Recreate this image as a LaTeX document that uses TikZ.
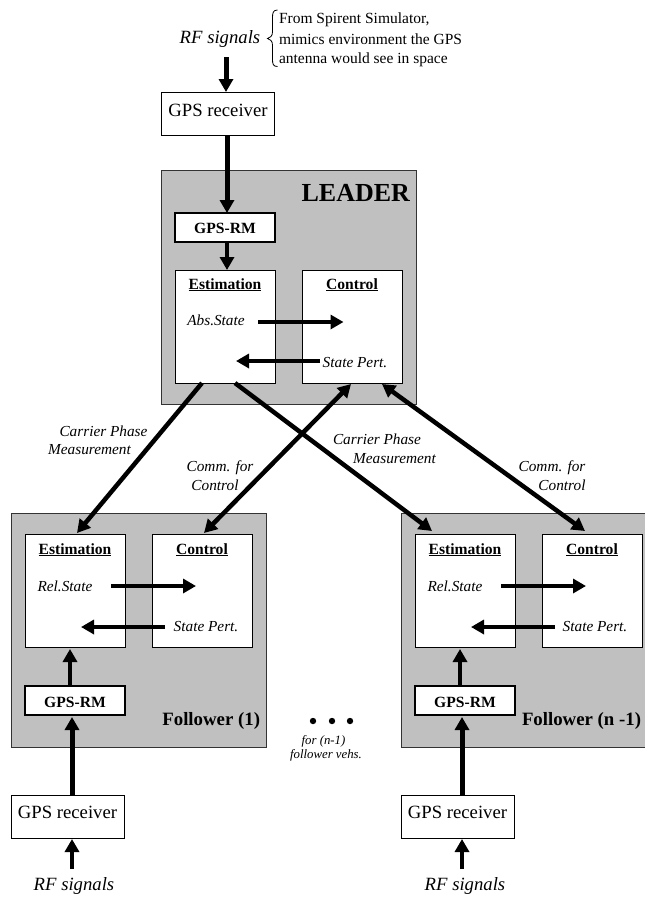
\documentclass[tikz,border=0pt]{standalone}
\usepackage{fontspec}
\setmainfont{Liberation Serif}
\usetikzlibrary{arrows.meta}
\newcommand\ttl[1]{\setbox0\hbox{#1}\rlap{\rule[-2.4pt]{\wd0}{1.1pt}}\box0}
\tikzset{
  panel/.style={draw=black!80,line width=1pt,fill=panelgray,inner sep=0pt,outer sep=0pt,minimum width=255pt,minimum height=234pt},
  whitebox/.style={draw=black,line width=1pt,fill=white,inner sep=0pt,outer sep=0pt,minimum width=100pt,minimum height=113pt},
  rmbox/.style={draw=black,line width=1.1pt,fill=white,inner sep=0pt,outer sep=0pt,minimum width=100pt,minimum height=29pt},
  rxbox/.style={draw=black,line width=1pt,fill=white,inner sep=0pt,outer sep=0pt,minimum width=113pt,minimum height=43pt},
  txt/.style={inner sep=0pt,outer sep=0pt,anchor=base,font=\fontsize{15.5}{15.5}\selectfont},
  ital/.style={txt,font=\fontsize{15.3}{15.3}\selectfont\itshape},
  rflab/.style={txt,font=\fontsize{18.7}{18.7}\selectfont\itshape},
  rxlab/.style={txt,font=\fontsize{18.7}{18.7}\selectfont},
  boldlab/.style={txt,font=\fontsize{15.6}{15.6}\selectfont\bfseries},
  panellab/.style={txt,font=\fontsize{18.8}{18.8}\selectfont\bfseries},
  small/.style={txt,font=\fontsize{12.8}{12.8}\selectfont\itshape},
  dotmark/.style={circle,fill=black,inner sep=0pt,outer sep=0pt,minimum size=6.4pt},
  flow/.style={line width=4.5pt,-{Triangle[length=13pt,width=14pt]}},
  flowtwo/.style={line width=4.5pt,{Triangle[length=13pt,width=14pt]}-{Triangle[length=13pt,width=14pt]}},
  bigflow/.style={flow,line width=5pt},
}
\definecolor{panelgray}{HTML}{C0C0C0}
\begin{document}
\begin{tikzpicture}[x=1pt,y=-1pt]
\useasboundingbox (0,0) rectangle (645,897);
\clip (0,0) rectangle (645,897);
\fill[white] (0,0) rectangle (645,897);

% panels
\node[panel] (lead) at (288.5,287) {};
\node[panel] (fa) at (138.5,630) {};
\node[panel] (fb) at (528.5,630) {};

% leader
\node[rxbox] (rx0) at (218,113.5) {};
\node[rmbox] (rm0) at (225,227.5) {};
\node[whitebox] (est0) at (225,326.5) {};
\node[whitebox] (ctl0) at (352.5,326.5) {};
% follower 1
\node[whitebox] (esta) at (75,590.5) {};
\node[whitebox] (ctla) at (202.5,590.5) {};
\node[rmbox] (rma) at (75,700.5) {};
\node[rxbox] (rxa) at (67.5,816.5) {};
% follower n-1
\node[whitebox] (estb) at (465,590.5) {};
\node[whitebox] (ctlb) at (592.5,590.5) {};
\node[rmbox] (rmb) at (465,700.5) {};
\node[rxbox] (rxb) at (457.5,816.5) {};

% free ends
\coordinate (rf0) at (226,57);
\coordinate (rfa) at (72,869);
\coordinate (rfb) at (462,869);

% vertical flows
\draw[bigflow] (rf0) -- (rf0 |- rx0.north);
\draw[bigflow] (rx0.south -| 227,0) -- (rm0.north -| 227,0);
\draw[flow] (rm0.south -| 227,0) -- (est0.north -| 227,0);
\draw[flow] (rma.north -| 70,0) -- ([yshift=-2pt]esta.south -| 70,0);
\draw[bigflow] (rxa.north -| 72,0) -- ([yshift=-2pt]rma.south -| 72,0);
\draw[flow] (rfa) -- ([yshift=-1pt]rxa.south -| rfa);
\draw[flow] (rmb.north -| 460,0) -- ([yshift=-2pt]estb.south -| 460,0);
\draw[bigflow] (rxb.north -| 462,0) -- ([yshift=-2pt]rmb.south -| 462,0);
\draw[flow] (rfb) -- ([yshift=-1pt]rxb.south -| rfb);

% internal flows
\draw[flow] ([xshift=-17pt,yshift=4.5pt]est0.east) -- ([xshift=-9pt,yshift=4.5pt]ctl0.center);
\draw[flow] ([xshift=-32.5pt,yshift=-34.5pt]ctl0.center) -- ([xshift=11pt,yshift=-34.5pt]est0.center);
\draw[flow] ([xshift=-14pt,yshift=4.5pt]esta.east) -- ([xshift=-6.5pt,yshift=4.5pt]ctla.center);
\draw[flow] ([xshift=-37.5pt,yshift=-36.5pt]ctla.center) -- ([xshift=6pt,yshift=-36.5pt]esta.center);
\draw[flow] ([xshift=-14pt,yshift=4.5pt]estb.east) -- ([xshift=-6.5pt,yshift=4.5pt]ctlb.center);
\draw[flow] ([xshift=-37.5pt,yshift=-36.5pt]ctlb.center) -- ([xshift=6pt,yshift=-36.5pt]estb.center);

% diagonals
\draw[flow] ([xshift=-23pt]est0.south) -- ([xshift=2pt,yshift=1pt]esta.north);
\draw[flow] ([xshift=10pt]est0.south) -- ([xshift=-33pt,yshift=3pt]estb.north);
\draw[flowtwo] ([xshift=-1.5pt,yshift=-1pt]ctl0.south) -- ([xshift=1.5pt,yshift=1pt]ctla.north);
\draw[flowtwo] ([xshift=29.5pt,yshift=-1pt]ctl0.south) -- ([xshift=-7.5pt,yshift=3pt]ctlb.north);

% texts
\node[rflab] (t1) at (220,43.5) {RF signals};
\node[rxlab] (t2) at (218,116) {GPS receiver};
\node[txt,font=\fontsize{26}{26}\selectfont\bfseries,anchor=base east] (t3) at (410,201) {LEADER};
\node[boldlab] (t4) at (225,233) {GPS-RM};
\node[boldlab] (t5) at (225,289) {\ttl{Estimation}};
\node[boldlab] (t6) at (352,289) {\ttl{Control}};
\node[ital] (t7) at (216,325) {Abs.State};
\node[ital] (t8) at (355,367) {State Pert.};

\node[boldlab] (t9) at (75,554) {\ttl{Estimation}};
\node[boldlab] (t10) at (202,554) {\ttl{Control}};
\node[ital] (t11) at (65,591) {Rel.State};
\node[ital] (t12) at (206,631) {State Pert.};
\node[boldlab] (t13) at (75,707) {GPS-RM};
\node[panellab,anchor=base east] (t14) at (260,725) {Follower (1)};

\node[boldlab] (t15) at (465,554) {\ttl{Estimation}};
\node[boldlab] (t16) at (592,554) {\ttl{Control}};
\node[ital] (t17) at (455,591) {Rel.State};
\node[ital] (t18) at (595,631) {State Pert.};
\node[boldlab] (t19) at (465,707) {GPS-RM};
\node[panellab,anchor=base west] (t20) at (522,725) {Follower (n -1)};

\node[rxlab] (t21) at (67.5,818) {GPS receiver};
\node[rxlab] (t22) at (457.5,818) {GPS receiver};
\node[rflab] (t23) at (74,890) {RF signals};
\node[rflab] (t24) at (465,890) {RF signals};

\node[txt,anchor=base west] (n1) at (279,23) {From Spirent Simulator,};
\node[txt,anchor=base west] (n2) at (279,44) {mimics environment the GPS};
\node[txt,anchor=base west] (n3) at (279,63) {antenna would see in space};
\draw[line width=0.8pt] (277.5,10) .. controls (273,10) and (272.5,13) .. (272.5,18)
  -- (272.5,32) .. controls (272.5,36) and (270,38) .. (267.5,38.5)
  .. controls (270,39) and (272.5,41) .. (272.5,45)
  -- (272.5,59) .. controls (272.5,64) and (273,66.5) .. (277.5,66.5);

\node[ital] (c1) at (103.5,436) {Carrier Phase};
\node[ital] (c2) at (89.5,454) {Measurement};
\node[ital] (c3) at (377,444) {Carrier Phase};
\node[ital] (c4) at (394.5,463) {Measurement};
\node[ital] (c5) at (220,471) {Comm. for};
\node[ital] (c6) at (215,490) {Control};
\node[ital] (c7) at (552,471) {Comm. for};
\node[ital] (c8) at (562,490) {Control};

\node[dotmark] (d1) at (313,721) {};
\node[dotmark] (d2) at (332,721) {};
\node[dotmark] (d3) at (350,721) {};
\node[small] (s1) at (323.5,744) {for (n-1)};
\node[small] (s2) at (326,758) {follower vehs.};
\end{tikzpicture}
\end{document}
